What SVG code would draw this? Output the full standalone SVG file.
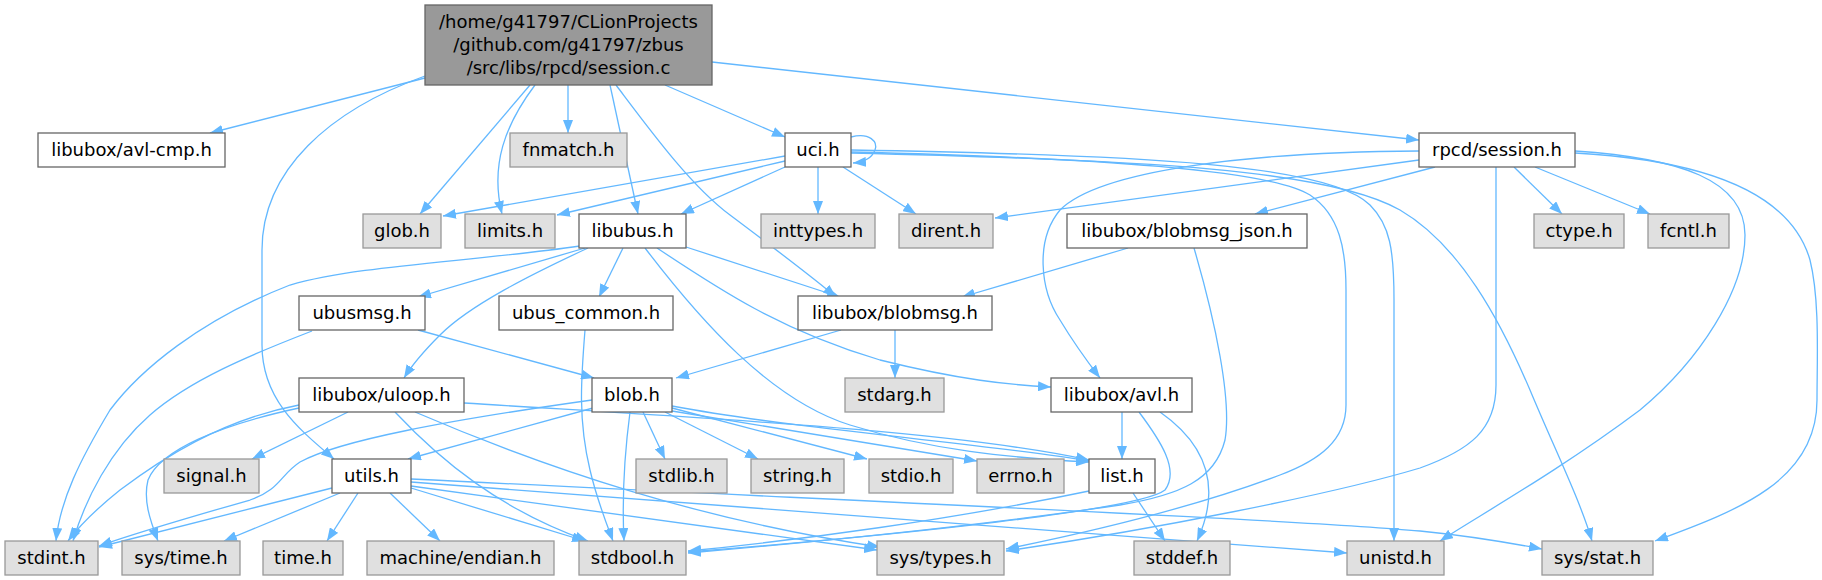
<svg xmlns="http://www.w3.org/2000/svg" width="1822" height="580" viewBox="0 0 1822 580">
<style>
.n rect{stroke-width:1.3}
.w rect{fill:#ffffff;stroke:#666666}
.g rect{fill:#e0e0e0;stroke:#999999}
.m rect{fill:#999999;stroke:#666666}
text{font-family:"DejaVu Sans","Liberation Sans",sans-serif;font-size:18px;fill:#000000;text-anchor:middle}
#edges path{fill:none;stroke:#63b8ff;stroke-width:1.3;marker-end:url(#ah)}
</style>
<defs>
<marker id="ah" viewBox="0 0 13 10" refX="13" refY="5" markerWidth="13" markerHeight="10" markerUnits="userSpaceOnUse" orient="auto">
<path d="M0,0 L13,5 L0,10 z" fill="#63b8ff"/>
</marker>
</defs>
<rect width="1822" height="580" fill="#ffffff"/>
<g id="edges">
<path d="M425,78 L210,133"/>
<path d="M568,85 L568,133"/>
<path d="M530,85 L420,214"/>
<path d="M535,85 C505,125 490,165 502,214"/>
<path d="M610,85 L638,214"/>
<path d="M616,85 C650,130 690,185 730,215 C770,245 810,275 836,297"/>
<path d="M665,85 L785,137"/>
<path d="M712,62 L1419,140"/>
<path d="M425,76 C330,110 262,170 262,250 L262,345 C262,400 300,430 334,459"/>
<path d="M851,137 C870,132 878,142 875,150 C872,158 865,162 853,163"/>
<path d="M785,156 L443,216"/>
<path d="M785,161 L557,215"/>
<path d="M785,167 L681,214"/>
<path d="M818,167 L818,214"/>
<path d="M843,167 L916,214"/>
<path d="M851,150 C1150,155 1330,165 1370,205 C1390,225 1394,250 1394,300 L1394,541"/>
<path d="M851,152 C1100,158 1270,170 1310,195 C1340,215 1346,250 1346,290 L1346,405 C1346,440 1320,460 1280,475 C1200,505 1100,530 1006,549"/>
<path d="M851,153 C1150,160 1330,170 1400,210 C1460,245 1500,320 1530,390 C1555,450 1580,500 1592,541"/>
<path d="M1419,151 C1250,152 1100,170 1060,210 C1035,240 1040,290 1060,320 C1075,345 1090,365 1100,378"/>
<path d="M1419,160 L995,218"/>
<path d="M1435,167 L1255,214"/>
<path d="M1514,167 L1562,214"/>
<path d="M1535,167 L1650,214"/>
<path d="M1496,167 L1496,385 C1496,430 1470,450 1420,468 C1330,495 1150,530 1006,551"/>
<path d="M1575,151 C1680,158 1745,180 1745,235 C1745,290 1700,360 1640,410 C1560,470 1480,515 1440,541"/>
<path d="M1575,153 C1700,160 1790,190 1810,260 C1820,300 1817,360 1817,400 C1817,480 1740,510 1655,541"/>
<path d="M580,246 C470,262 360,265 290,285 C200,320 140,370 110,410 C80,460 60,500 56,541"/>
<path d="M585,248 L418,297"/>
<path d="M588,248 C530,275 470,305 440,335 C425,350 412,365 404,378"/>
<path d="M623,248 L599,297"/>
<path d="M686,247 L840,297"/>
<path d="M645,248 C700,320 770,400 850,425 C930,450 1010,458 1089,462"/>
<path d="M657,248 C720,290 780,330 880,360 C960,380 1010,385 1051,387"/>
<path d="M418,330 L594,378"/>
<path d="M312,331 C250,355 190,380 150,415 C110,450 85,500 73,541"/>
<path d="M585,330 C581,380 578,420 590,470 C597,500 607,525 613,541"/>
<path d="M841,330 L676,378"/>
<path d="M895,330 L895,378"/>
<path d="M1128,248 L962,297"/>
<path d="M1194,248 C1215,320 1232,400 1225,440 C1215,480 1180,495 1120,505 C950,530 780,545 688,553"/>
<path d="M593,408 L408,459"/>
<path d="M592,400 C450,420 340,440 300,462 C280,475 280,490 250,500 C180,520 130,535 99,546"/>
<path d="M643,412 L665,459"/>
<path d="M665,412 L758,459"/>
<path d="M672,408 L867,459"/>
<path d="M672,411 L977,461"/>
<path d="M672,406 C800,430 1000,445 1089,461"/>
<path d="M630,412 C625,450 622,500 624,541"/>
<path d="M299,405 C220,420 160,460 120,490 C95,510 80,525 68,541"/>
<path d="M299,408 C220,425 160,450 148,480 C143,500 150,520 158,541"/>
<path d="M348,412 L252,459"/>
<path d="M395,412 C440,460 500,510 588,541"/>
<path d="M415,412 C550,470 700,520 880,547"/>
<path d="M464,403 C700,418 950,430 1089,460"/>
<path d="M332,488 L99,547"/>
<path d="M340,493 L224,541"/>
<path d="M358,493 L327,541"/>
<path d="M390,493 L440,541"/>
<path d="M411,488 L585,541"/>
<path d="M411,486 L877,550"/>
<path d="M411,482 C800,510 1100,532 1347,553"/>
<path d="M411,479 C900,503 1300,520 1420,531 C1480,537 1510,543 1542,549"/>
<path d="M1122,412 L1122,459"/>
<path d="M1139,412 C1160,440 1180,470 1165,490 C1140,510 900,535 688,552"/>
<path d="M1160,412 C1200,440 1225,480 1197,541"/>
<path d="M1133,493 L1165,541"/>
<path d="M1089,491 C950,520 800,540 688,551"/>
</g>
<g id="node-session-c" class="n m"><rect x="425" y="5" width="287" height="80"/><text x="568.5" y="28">/home/g41797/CLionProjects</text><text x="568.5" y="51">/github.com/g41797/zbus</text><text x="568.5" y="74">/src/libs/rpcd/session.c</text></g>
<g id="node-avl-cmp" class="n w"><rect x="38" y="133" width="187" height="34"/><text x="131.5" y="156">libubox/avl-cmp.h</text></g>
<g id="node-fnmatch" class="n g"><rect x="510" y="133" width="117" height="34"/><text x="568.5" y="156">fnmatch.h</text></g>
<g id="node-uci" class="n w"><rect x="785" y="133" width="66" height="34"/><text x="818" y="156">uci.h</text></g>
<g id="node-rpcd-session" class="n w"><rect x="1419" y="133" width="156" height="34"/><text x="1497" y="156">rpcd/session.h</text></g>
<g id="node-glob" class="n g"><rect x="363" y="214" width="78" height="34"/><text x="402" y="237">glob.h</text></g>
<g id="node-limits" class="n g"><rect x="465" y="214" width="90" height="34"/><text x="510" y="237">limits.h</text></g>
<g id="node-libubus" class="n w"><rect x="579" y="214" width="107" height="34"/><text x="632.5" y="237">libubus.h</text></g>
<g id="node-inttypes" class="n g"><rect x="761" y="214" width="114" height="34"/><text x="818" y="237">inttypes.h</text></g>
<g id="node-dirent" class="n g"><rect x="899" y="214" width="94" height="34"/><text x="946" y="237">dirent.h</text></g>
<g id="node-blobmsg-json" class="n w"><rect x="1067" y="214" width="240" height="34"/><text x="1187" y="237">libubox/blobmsg_json.h</text></g>
<g id="node-ctype" class="n g"><rect x="1534" y="214" width="90" height="34"/><text x="1579" y="237">ctype.h</text></g>
<g id="node-fcntl" class="n g"><rect x="1648" y="214" width="81" height="34"/><text x="1688.5" y="237">fcntl.h</text></g>
<g id="node-ubusmsg" class="n w"><rect x="299" y="296" width="126" height="34"/><text x="362" y="319">ubusmsg.h</text></g>
<g id="node-ubus-common" class="n w"><rect x="499" y="296" width="174" height="34"/><text x="586" y="319">ubus_common.h</text></g>
<g id="node-blobmsg" class="n w"><rect x="798" y="296" width="194" height="34"/><text x="895" y="319">libubox/blobmsg.h</text></g>
<g id="node-uloop" class="n w"><rect x="299" y="378" width="165" height="34"/><text x="381.5" y="401">libubox/uloop.h</text></g>
<g id="node-blob" class="n w"><rect x="592" y="378" width="80" height="34"/><text x="632" y="401">blob.h</text></g>
<g id="node-stdarg" class="n g"><rect x="845" y="378" width="99" height="34"/><text x="894.5" y="401">stdarg.h</text></g>
<g id="node-avl" class="n w"><rect x="1051" y="378" width="141" height="34"/><text x="1121.5" y="401">libubox/avl.h</text></g>
<g id="node-signal" class="n g"><rect x="164" y="459" width="95" height="34"/><text x="211.5" y="482">signal.h</text></g>
<g id="node-utils" class="n w"><rect x="332" y="459" width="79" height="34"/><text x="371.5" y="482">utils.h</text></g>
<g id="node-stdlib" class="n g"><rect x="636" y="459" width="91" height="34"/><text x="681.5" y="482">stdlib.h</text></g>
<g id="node-string" class="n g"><rect x="751" y="459" width="93" height="34"/><text x="797.5" y="482">string.h</text></g>
<g id="node-stdio" class="n g"><rect x="869" y="459" width="84" height="34"/><text x="911" y="482">stdio.h</text></g>
<g id="node-errno" class="n g"><rect x="977" y="459" width="87" height="34"/><text x="1020.5" y="482">errno.h</text></g>
<g id="node-list" class="n w"><rect x="1089" y="459" width="66" height="34"/><text x="1122" y="482">list.h</text></g>
<g id="node-stdint" class="n g"><rect x="5" y="541" width="93" height="34"/><text x="51.5" y="564">stdint.h</text></g>
<g id="node-sys-time" class="n g"><rect x="122" y="541" width="118" height="34"/><text x="181" y="564">sys/time.h</text></g>
<g id="node-time" class="n g"><rect x="263" y="541" width="80" height="34"/><text x="303" y="564">time.h</text></g>
<g id="node-machine-endian" class="n g"><rect x="367" y="541" width="187" height="34"/><text x="460.5" y="564">machine/endian.h</text></g>
<g id="node-stdbool" class="n g"><rect x="579" y="541" width="107" height="34"/><text x="632.5" y="564">stdbool.h</text></g>
<g id="node-sys-types" class="n g"><rect x="877" y="541" width="127" height="34"/><text x="940.5" y="564">sys/types.h</text></g>
<g id="node-stddef" class="n g"><rect x="1134" y="541" width="96" height="34"/><text x="1182" y="564">stddef.h</text></g>
<g id="node-unistd" class="n g"><rect x="1347" y="541" width="97" height="34"/><text x="1395.5" y="564">unistd.h</text></g>
<g id="node-sys-stat" class="n g"><rect x="1542" y="541" width="111" height="34"/><text x="1597.5" y="564">sys/stat.h</text></g>
</svg>
